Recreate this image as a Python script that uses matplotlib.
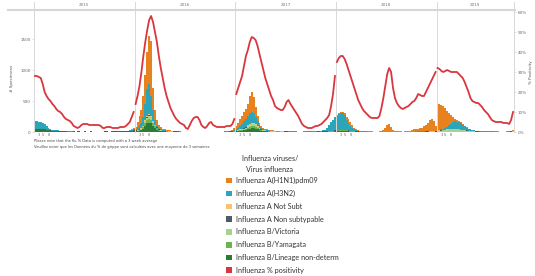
import numpy as np
import matplotlib
matplotlib.use("Agg")
import matplotlib.pyplot as plt
from matplotlib.patches import Patch
from matplotlib.lines import Line2D

plt.rcParams['font.family'] = ['DejaVu Sans']

# weekly data, week 0 = first week of 2015
years = ["2015", "2016", "2017", "2018", "2019"]
year_weeks = [52, 52, 52, 52, 40]
week_ticks = [3, 5, 8]

# % positivity (3 week average), one list per year
pos_2015 = [28, 28, 27.5, 27, 24, 20, 18, 16.5, 15.5, 14, 13, 11.5, 10.5, 10, 9, 7.5, 6.5, 6, 5.5, 4.5,
            3, 2.5, 2, 2.5, 3.5, 4, 4, 4, 3.5, 3.5, 3.5, 3.5, 3.5, 3.5, 3, 2, 2, 2.5, 2.5, 2.5,
            2, 2, 2, 2, 2.5, 2.5, 2.5, 3, 4, 5, 7.5, 10]
pos_2016 = [14, 18, 23, 30, 38, 45, 51, 56, 58, 55, 50, 45, 38, 32, 27, 22, 18, 15, 12, 10,
            8, 6.5, 5.5, 4.5, 4, 3.5, 2, 1.5, 3.5, 5.5, 7, 7.5, 7.5, 6, 3.5, 2.5, 2, 3, 4.5, 5,
            3.5, 3, 2.5, 2.5, 2.5, 2.5, 2.5, 3, 3, 3, 4, 6.5]
pos_2017 = [19, 22, 25, 28, 33, 38, 41, 45, 47.5, 47, 46, 43, 39, 35, 31, 27, 24, 21, 18, 16,
            13, 12, 11.5, 11, 11, 12.5, 15, 16, 14, 12.5, 11, 9.5, 8, 6, 4, 3, 2.5, 2, 2, 2,
            2.5, 3, 3, 3.5, 4, 5, 6, 7, 8.5, 13, 19, 28]
pos_2018 = [35, 37, 38, 38, 36.5, 34, 31, 28, 25, 22, 19, 16, 14, 12, 10.5, 9.5, 8.5, 7.5, 7, 7,
            7, 7, 8, 12, 17, 23, 29, 32, 30, 22, 17, 14.5, 13, 12, 11.5, 12, 12.5, 13, 14, 15,
            15.5, 17, 19, 18.5, 18, 18, 20, 22, 24, 26, 28, 30]
pos_2019 = [32, 31.5, 30.5, 30, 30.5, 31, 30.5, 30, 30, 30, 30, 29, 28, 27, 25, 22.5, 20, 17, 15.5, 15,
            14.5, 14.5, 13.5, 12.5, 11, 10, 9, 7.5, 6, 5.5, 5, 5, 5, 5, 4.5, 4.5, 4.5, 4, 6, 10]

# specimen counts: {first week: weekly values}
h1n1 = {
    46: [0, 0, 2, 5, 10, 20, 40, 90, 150, 200, 330, 470, 610, 770, 890, 360, 160, 90, 50, 30, 20, 15, 10, 10,
         8, 6, 5, 4, 3, 2],
    98: [0, 0, 2, 5, 10, 30, 50, 80, 110, 130, 150, 170, 200, 280, 320, 260, 160, 90, 40, 30, 20, 15, 15, 10,
         10, 7, 5, 5, 4, 3, 3, 2, 2, 2, 1, 1, 1, 1],
    150: [0, 0, 2, 3, 5, 5, 8, 10, 12, 15, 30, 50, 70, 60, 40, 25, 15, 10, 5, 3, 2, 2, 2, 1, 1, 1, 1, 1],
    178: [5, 10, 20, 60, 115, 125, 70, 30, 15, 8, 5, 5,
          3, 7, 9, 11, 15, 24, 33, 37, 46, 50, 58, 78, 105, 133, 180, 188, 160, 85,
          420, 410, 395, 370, 320, 260, 200, 145, 85, 45, 30, 20, 15, 10, 5, 4, 3, 3, 2, 2, 1, 1, 1,
          1, 1, 1, 1, 1, 1, 1, 1, 1, 1, 1, 1, 1, 1, 2, 2, 3],
}
h3n2 = {
    0: [120, 120, 115, 110, 105, 87, 62, 39, 25, 20, 18, 15, 11, 8, 8, 6, 6, 4, 3, 3],
    46: [5, 5, 8, 10, 12, 15, 20, 40, 60, 90, 140, 260, 430, 490, 320, 170, 70, 30, 20, 15, 10, 10, 8, 5,
         5, 4, 3, 3, 2, 2],
    98: [3, 4, 5, 6, 8, 12, 27, 40, 58, 76, 102, 125, 153, 170, 170, 153, 118, 76, 44, 27, 17, 12, 7, 7,
         6, 6, 3, 4, 4, 4, 3, 3, 3, 3, 2, 2, 2, 2],
    136: [3, 3, 3, 4, 4, 5, 5, 6, 8, 10, 12, 15, 12, 20,
          31, 59, 95, 140, 174, 210, 234, 259, 275, 277, 239, 162, 115, 79, 53, 32, 19, 11, 7, 5,
          4, 4, 3, 3, 3, 2, 2, 2],
    178: [2, 2, 2, 1, 1, 1, 1, 1, 1, 1, 1, 1,
          1, 1, 1, 1, 2, 2, 3, 3, 4, 4, 5, 5, 6, 7, 8, 9, 8, 6,
          15, 15, 15, 15, 30, 45, 60, 80, 110, 120, 115, 110, 100, 80, 60, 46, 32, 25, 18, 15, 13, 12, 10,
          8, 7, 6, 6, 5, 5, 4, 4, 4, 3, 3, 3, 3, 4, 5, 6, 8],
}
a_not_subt = {
    52: [0, 0, 2, 5, 10, 15, 20, 20, 15, 10, 5, 3, 2, 1],
    105: [2, 3, 5, 8, 10, 12, 15, 15, 12, 8, 5, 3],
    208: [5, 5, 5, 5, 4, 3, 2, 2],
}
a_non_subtypable = {
    0: [10, 10, 10, 10, 10, 8, 8, 6, 5, 5, 5, 5, 4, 4, 4, 3, 3, 3, 2, 2,
        4, 3, 5, 4, 3, 4, 5, 3, 4, 4, 3, 5, 4, 3, 4, 3, 5, 4, 4, 3, 4, 5, 4, 5, 6, 5],
    46: [5, 6, 6, 7, 8, 8, 5, 5, 5, 5, 5, 8, 10, 10, 8, 6, 5, 5, 4, 4, 3, 3, 3, 3, 3, 3, 3, 3, 3, 3],
    76: [3, 3, 2, 3, 4, 3, 3, 2, 3, 3, 4, 3, 3, 2, 3, 3, 2, 3, 3, 3, 4, 3],
    98: [3, 3, 3, 3, 3, 3, 3, 3, 4, 4, 5, 5, 5, 5, 5, 5, 4, 4, 3, 3, 3, 3, 3, 3, 2, 2, 2,
         2, 2, 2, 3, 2, 2, 2, 2, 2, 2, 2],
    136: [2, 2, 2, 2, 2, 2, 3, 3, 3, 3, 3, 3, 3, 3,
          3, 3, 3, 3, 3, 3, 3, 3, 3, 3, 3, 3, 3, 3, 3, 3, 3, 3, 3, 3,
          2, 2, 2, 2, 2, 2, 2, 2],
    178: [2, 2, 2, 2, 2, 2, 2, 2, 2, 2, 1, 1,
          1, 1, 1, 1, 1, 1, 1, 2, 2, 2, 2, 2, 3, 3, 3, 3, 3, 3,
          2, 2, 2, 2, 2, 2, 2, 2, 2, 2, 2, 2, 2, 2, 2, 2, 2, 2, 2, 2, 2, 2, 2,
          2, 2, 2, 2, 1, 1, 1, 1, 1, 1, 1, 1, 1, 1, 2, 3, 5],
}
b_victoria = {
    46: [0, 0, 0, 0, 0, 2, 4, 6, 8, 10, 15, 30, 40, 50, 45, 30, 20, 12, 6, 4, 3, 2, 2, 2, 2, 2, 1, 1, 1, 1],
    98: [0, 0, 0, 0, 0, 4, 6, 7, 10, 13, 16, 21, 27, 33, 39, 39, 33, 25, 18, 12, 9, 7, 6, 4, 4, 3, 3,
         3, 3, 2, 2, 2, 2, 1, 1, 1, 1, 1],
    150: [0, 0, 0, 0, 1, 1, 1, 2, 2, 2, 2, 2, 2, 1, 1, 1, 0, 0, 0, 0],
    190: [0, 1, 1, 2, 2, 3, 3, 3, 3, 4, 5, 5, 6, 7, 9, 10, 9, 6,
          15, 15, 20, 25, 30, 35, 40, 45, 45, 45, 45, 40, 35, 30, 25, 20, 15, 12, 10, 8, 6, 5, 4,
          3, 3, 3, 2, 2, 2, 2, 2, 2, 2, 1, 1, 1, 1, 2, 3, 4],
}
b_yamagata = {
    46: [0, 0, 0, 0, 2, 3, 4, 6, 8, 10, 20, 40, 50, 60, 55, 40, 25, 18, 10, 6, 5, 4, 3, 2, 2, 2, 1, 1, 1, 1],
    98: [0, 0, 0, 0, 0, 3, 4, 5, 7, 9, 11, 14, 18, 22, 26, 26, 22, 17, 12, 8, 6, 5, 4, 3, 2, 2, 2,
         2, 2, 2, 1, 1, 1, 1, 1, 1, 1, 1],
    150: [4, 5, 6, 8, 11, 13, 15, 17, 18, 18, 17, 15, 13, 11, 8, 6, 5, 4, 3, 2, 2, 1, 1, 1, 1, 1, 1, 1],
    178: [1, 1, 1, 1, 1, 1, 1, 1, 1, 1, 1, 1],
}
b_lineage_nd = {
    0: [40, 40, 40, 40, 35, 35, 30, 25, 20, 15, 12, 10, 10, 8, 8, 6, 6, 5, 5, 5,
        5, 4, 4, 5, 3, 4, 4, 3, 4, 5, 4, 3, 4, 4, 3, 4, 4, 5, 4, 4, 5, 5, 6, 6, 7, 8],
    46: [5, 6, 8, 10, 12, 14, 12, 18, 24, 30, 55, 100, 140, 150, 140, 100, 65, 40, 24, 15, 12, 9, 7, 6,
         5, 5, 4, 4, 4, 3],
    76: [3, 3, 3, 2, 3, 3, 4, 3, 3, 3, 2, 3, 3, 3, 4, 3, 3, 3, 3, 4, 3, 4],
    98: [4, 4, 5, 6, 8, 8, 10, 13, 18, 23, 28, 35, 45, 55, 65, 65, 55, 43, 30, 20, 15, 13, 10, 8, 6, 5, 5,
         8, 8, 6, 6, 5, 5, 4, 4, 4, 3, 3],
    136: [3, 3, 3, 3, 3, 4, 4, 4, 5, 5, 6, 6, 5, 7,
          2, 3, 4, 6, 7, 9, 10, 11, 12, 12, 11, 10, 9, 7, 6, 4, 3, 2, 2, 2,
          2, 2, 2, 2, 2, 2, 2, 2],
    178: [2, 2, 2, 2, 2, 2, 2, 2, 2, 2, 2, 2,
          1, 1, 1, 1, 1, 1, 1, 1, 1, 1, 1, 1, 1, 1, 1, 1, 1, 1,
          3, 3, 3, 3, 3, 3, 3, 3, 3, 3, 3, 3, 3, 3, 3, 3, 2, 2, 2, 2, 2, 2, 2,
          2, 2, 2, 2, 2, 2, 2, 1, 1, 1, 1, 1, 1, 2, 3, 4, 6],
}

labels = ["Influenza A(H1N1)pdm09", "Influenza A(H3N2)", "Influenza A Not Subt",
          "Influenza A Non subtypable", "Influenza B/Victoria", "Influenza B/Yamagata",
          "Influenza B/Lineage non-determ", "Influenza % positivity"]
colors = ["#E8821E", "#2BA5B9", "#F5C46C", "#4E5A66", "#A6D48F", "#6CB451", "#2E7B38", "#D9363E"]

n_weeks = sum(year_weeks)


def expand(segments):
    arr = np.zeros(n_weeks)
    for start, vals in segments.items():
        arr[start:start + len(vals)] = vals
    return arr


W, H = 535, 276


def fx(px):
    return px / W


def fy(py):
    return 1 - py / H


fig = plt.figure(figsize=(W / 100, H / 100), dpi=100)
ax = fig.add_axes([fx(34), fy(132), fx(514) - fx(34), fy(10) - fy(132)])

# stacked bars, bottom to top
stack = [b_lineage_nd, b_yamagata, b_victoria, a_non_subtypable, a_not_subt, h3n2, h1n1]
stack_colors = colors[:7][::-1]
x = np.arange(n_weeks) + 0.5
bottom = np.zeros(n_weeks)
for seg, c in zip(stack, stack_colors):
    vals = expand(seg)
    ax.bar(x, vals, width=1.0, bottom=bottom, color=c, linewidth=0)
    bottom += vals

ax.set_xlim(0, n_weeks)
ax.set_ylim(0, 1975)
ax.set_yticks([0, 500, 1000, 1500])
ax.tick_params(axis="y", labelsize=3, length=1.5, width=0.4, color="#cccccc", labelcolor="#666666", pad=1)

# year boundaries and headers
bounds = np.cumsum([0] + year_weeks)
tick_pos, tick_lab = [], []
for i, yr in enumerate(years):
    ax.text((bounds[i] + bounds[i + 1]) / 2, 1.041, yr, transform=ax.get_xaxis_transform(),
            ha="center", va="center", fontsize=3, color="#777777")
    for wk in week_ticks:
        tick_pos.append(bounds[i] + wk - 0.5)
        tick_lab.append(str(wk))
for b in bounds:
    ax.axvline(b, color="#d9d9d9", lw=0.7, ymax=1 + 8 / 122, clip_on=False)
ax.set_xticks(tick_pos)
ax.set_xticklabels(tick_lab)
ax.tick_params(axis="x", labelsize=2.5, length=0, pad=1, labelcolor="#666666")
fig.add_artist(Line2D([fx(8), fx(515)], [fy(9.5), fy(9.5)], color="#d6d6d6", lw=1.5))

for s in ["top", "bottom"]:
    ax.spines[s].set_visible(False)
for s in ["left", "right"]:
    ax.spines[s].set_color("#d9d9d9")
    ax.spines[s].set_linewidth(0.7)

# positivity line on right axis, broken at each year
ax2 = ax.twinx()
pos_years = [pos_2015, pos_2016, pos_2017, pos_2018, pos_2019]
for i, vals in enumerate(pos_years):
    ax2.plot(bounds[i] + np.arange(len(vals)) + 0.5, vals, color=colors[7], lw=1.3)
ax2.set_ylim(0, 61)
ax2.set_yticks([0, 10, 20, 30, 40, 50, 60])
ax2.set_yticklabels([f"{v}%" for v in range(0, 70, 10)])
ax2.tick_params(axis="y", labelsize=3, length=1.5, width=0.4, color="#cccccc", labelcolor="#666666", pad=1)
for s in ax2.spines.values():
    s.set_visible(False)

fig.text(fx(12), fy(78), "# Specimens", rotation=90, fontsize=3, ha="center", va="center", color="#555555")
fig.text(fx(531), fy(72), "% Positivity", rotation=90, fontsize=3, ha="center", va="center", color="#555555")

fig.text(fx(34), fy(141), "Please note that the flu % Data is computed with a 3 week average",
         fontsize=2.6, va="center", color="#444444")
fig.text(fx(34), fy(147), "Veuillez noter que les Données du % de grippe sont calculées avec une moyenne de 3 semaines",
         fontsize=2.6, va="center", color="#444444")

# legend
fig.text(fx(270), fy(164), "Influenza viruses/\nVirus influenza", ha="center", va="center",
         fontsize=5.2, linespacing=1.65, color="#333333", family="Lato")
handles = [Patch(facecolor=c, edgecolor="none") for c in colors]
leg = fig.legend(handles, labels, loc="upper left", bbox_to_anchor=(fx(226), fy(177)),
                 frameon=False, prop={"family": "Lato", "size": 5.2},
                 handlelength=0.85, handleheight=0.85, handletextpad=0.55,
                 labelspacing=0.8, borderaxespad=0, borderpad=0)
for t in leg.get_texts():
    t.set_color("#333333")

fig.savefig("out.png", dpi=100)
